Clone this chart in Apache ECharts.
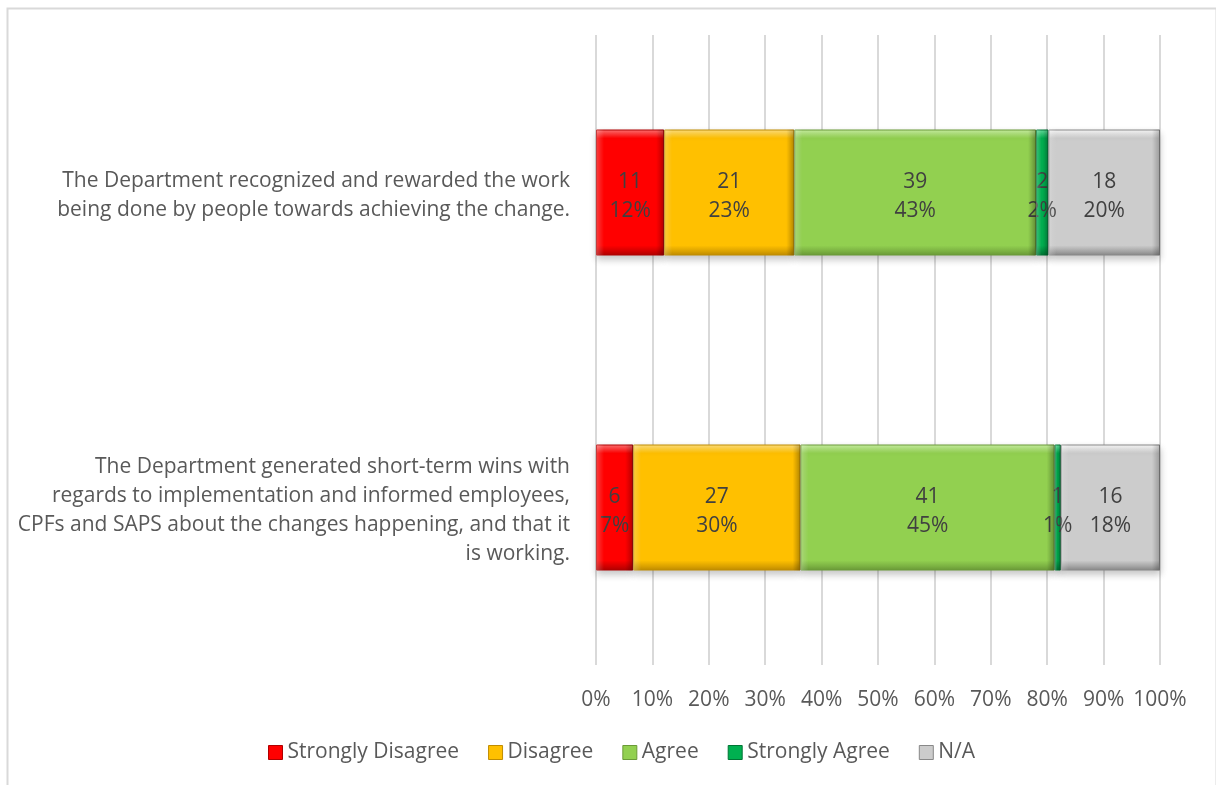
<!DOCTYPE html>
<html>
<head>
<meta charset="utf-8">
<title>Recognition and short-term wins</title>
<script src="https://cdn.jsdelivr.net/npm/echarts@6/dist/echarts.min.js"></script>
<style>
  html, body { margin: 0; padding: 0; background: #ffffff; }
  #chart { width: 1216px; height: 785px; }
</style>
</head>
<body>
<div id="chart"></div>
<script>
// Survey statements, top to bottom
const categories = [
  'The Department recognized and rewarded the work\nbeing done by people towards achieving the change.',
  'The Department generated short-term wins with\nregards to implementation and informed employees,\nCPFs and SAPS about the changes happening, and that it\nis working.'
];

// Response options (legend order)
const responses = ['Strongly Disagree', 'Disagree', 'Agree', 'Strongly Agree', 'N/A'];

// Number of respondents per statement, for each response option
const stronglyDisagree = [11, 6];
const disagree = [21, 27];
const agree = [39, 41];
const stronglyAgree = [2, 1];
const notApplicable = [18, 16];

// Axis tick labels (percent of respondents)
const tickValues = [0, 10, 20, 30, 40, 50, 60, 70, 80, 90, 100];

const FONT = 'Open Sans';
const FONT_SIZE = 21;
const counts = [stronglyDisagree, disagree, agree, stronglyAgree, notApplicable];
const baseColors = ['#ff0000', '#ffc000', '#92d050', '#00b050', '#cccccc'];
const lightColors = ['#ff7474', '#ffe07f', '#c8efa2', '#66dd9e', '#f9f9f9'];
const darkColors = ['#b00000', '#c08c00', '#6a9a38', '#007535', '#888888'];

const totals = categories.map((_, c) => counts.reduce((s, arr) => s + arr[c], 0));

// Plot width in pixels, used to keep the side bevels a constant width
const PLOT_WIDTH = 1216 - 596 - 56;
const BEVEL = 8;

function bevelFill(i) {
  return new echarts.graphic.LinearGradient(0, 0, 0, 1, [
    { offset: 0, color: lightColors[i] },
    { offset: 0.07, color: baseColors[i] },
    { offset: 0.92, color: baseColors[i] },
    { offset: 1, color: darkColors[i] }
  ]);
}

function sideBevel(share) {
  const w = Math.max(share / 100 * PLOT_WIDTH, 1);
  const e = Math.min(BEVEL / w, 0.45);
  return new echarts.graphic.LinearGradient(0, 0, 1, 0, [
    { offset: 0, color: 'rgba(255,255,255,0.25)' },
    { offset: e, color: 'rgba(255,255,255,0)' },
    { offset: 1 - e, color: 'rgba(0,0,0,0)' },
    { offset: 1, color: 'rgba(0,0,0,0.22)' }
  ]);
}

const shares = counts.map(arr => arr.map((v, c) => v / totals[c] * 100));

const mainSeries = responses.map((name, i) => ({
  name: name,
  type: 'bar',
  stack: 'share',
  barWidth: 126,
  barGap: '-100%',
  z: 2,
  data: counts[i].map((v, c) => ({ value: shares[i][c], count: v })),
  itemStyle: {
    color: bevelFill(i),
    borderColor: darkColors[i],
    borderWidth: 1,
    shadowColor: 'rgba(0,0,0,0.22)',
    shadowBlur: 7,
    shadowOffsetY: 4
  },
  label: {
    show: true,
    position: 'inside',
    offset: [0, 4],
    color: '#404040',
    fontFamily: FONT,
    fontSize: FONT_SIZE,
    lineHeight: 29,
    formatter: p => p.data.count + '\n' + Math.round(p.value) + '%'
  },
  emphasis: { disabled: true }
}));

// Side shading laid over each segment (not listed in the legend)
const edgeSeries = responses.map((name, i) => ({
  name: name + ' edge',
  type: 'bar',
  stack: 'edge',
  barWidth: 126,
  barGap: '-100%',
  z: 3,
  silent: true,
  data: shares[i].map(s => ({ value: s, itemStyle: { color: sideBevel(s) } })),
  itemStyle: { borderWidth: 0 },
  label: { show: false },
  emphasis: { disabled: true }
}));

const chart = echarts.init(document.getElementById('chart'), null, { renderer: 'canvas' });

chart.setOption({
  animation: false,
  backgroundColor: '#ffffff',
  textStyle: { fontFamily: FONT },
  graphic: [{
    type: 'rect',
    left: 5, top: 6,
    shape: { width: 1209, height: 800 },
    style: { fill: 'none', stroke: '#d9d9d9', lineWidth: 2 },
    silent: true
  }],
  grid: { left: 596, right: 56, top: 35, bottom: 120, containLabel: false },
  legend: {
    data: responses.map((n, i) => ({ name: n, itemStyle: { color: baseColors[i], borderColor: darkColors[i], borderWidth: 1 } })),
    bottom: 17,
    left: 263,
    icon: 'rect',
    itemWidth: 14,
    itemHeight: 14,
    itemGap: 29,
    textStyle: { color: '#595959', fontSize: FONT_SIZE, fontFamily: FONT }
  },
  xAxis: {
    type: 'value',
    min: tickValues[0],
    max: tickValues[tickValues.length - 1],
    interval: tickValues[1] - tickValues[0],
    axisLine: { show: false },
    axisTick: { show: false },
    axisLabel: {
      color: '#595959',
      fontSize: FONT_SIZE,
      fontFamily: FONT,
      margin: 25,
      formatter: '{value}%'
    },
    splitLine: { show: true, lineStyle: { color: '#d9d9d9', width: 2 } }
  },
  yAxis: {
    type: 'category',
    inverse: true,
    data: categories,
    axisLine: { show: false },
    axisTick: { show: false },
    axisLabel: {
      color: '#595959',
      fontSize: FONT_SIZE,
      fontFamily: FONT,
      lineHeight: 29,
      margin: 26,
      align: 'right',
      // a thin spacer line above the statement nudges the block slightly down
      formatter: v => '{gap|}\n' + v,
      rich: { gap: { lineHeight: 7, fontSize: 1 } }
    }
  },
  series: mainSeries.concat(edgeSeries)
});
</script>
</body>
</html>
